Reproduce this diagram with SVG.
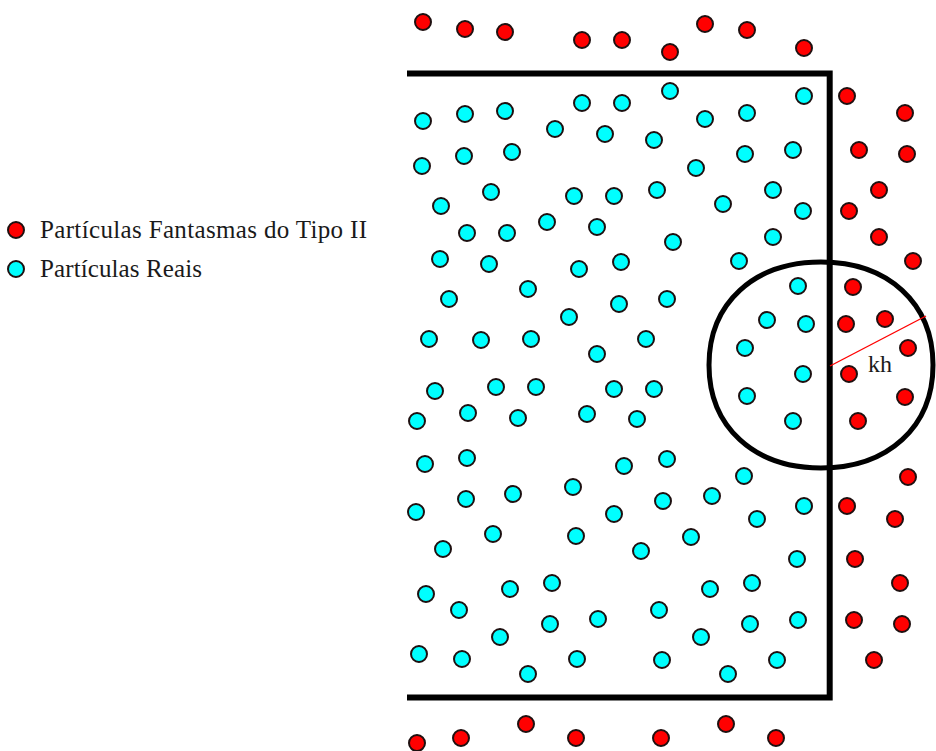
<svg xmlns="http://www.w3.org/2000/svg" width="936" height="751" viewBox="0 0 936 751">
<style>
.g{fill:#ff0000;stroke:#1e1010;stroke-width:2}
.r{fill:#00ffff;stroke:#1e1010;stroke-width:2}
.t{font-family:"Liberation Serif","Times New Roman",serif;font-size:25px;fill:#1a1a1a}
.w{fill:none;stroke:#000;stroke-width:6;stroke-linecap:butt;stroke-linejoin:miter}
</style>
<rect width="936" height="751" fill="#fff"/>
<g id="legend">
<circle class="g" cx="16" cy="230" r="8"/>
<text class="t" x="40" y="238" textLength="327" lengthAdjust="spacing">Partículas Fantasmas do Tipo II</text>
<circle class="r" cx="16" cy="269" r="8"/>
<text class="t" x="40" y="277" textLength="162" lengthAdjust="spacing">Partículas Reais</text>
</g>
<g id="ghost-particles">
<circle class="g" cx="423" cy="22" r="8"/><circle class="g" cx="465" cy="29" r="8"/><circle class="g" cx="505" cy="32" r="8"/><circle class="g" cx="582" cy="40" r="8"/><circle class="g" cx="622" cy="40" r="8"/><circle class="g" cx="670" cy="52" r="8"/><circle class="g" cx="705" cy="24" r="8"/><circle class="g" cx="747" cy="30" r="8"/><circle class="g" cx="804" cy="48" r="8"/>
<circle class="g" cx="847" cy="96" r="8"/><circle class="g" cx="905" cy="113" r="8"/><circle class="g" cx="859" cy="150" r="8"/><circle class="g" cx="907" cy="154" r="8"/><circle class="g" cx="879" cy="190" r="8"/><circle class="g" cx="849" cy="211" r="8"/><circle class="g" cx="879" cy="237" r="8"/><circle class="g" cx="913" cy="261" r="8"/>
<circle class="g" cx="853" cy="287" r="8"/><circle class="g" cx="846" cy="324" r="8"/><circle class="g" cx="885" cy="319" r="8"/><circle class="g" cx="908" cy="348" r="8"/><circle class="g" cx="849" cy="374" r="8"/><circle class="g" cx="905" cy="397" r="8"/><circle class="g" cx="858" cy="421" r="8"/><circle class="g" cx="908" cy="477" r="8"/>
<circle class="g" cx="847" cy="506" r="8"/><circle class="g" cx="895" cy="519" r="8"/><circle class="g" cx="855" cy="559" r="8"/><circle class="g" cx="900" cy="583" r="8"/><circle class="g" cx="854" cy="620" r="8"/><circle class="g" cx="902" cy="624" r="8"/><circle class="g" cx="874" cy="660" r="8"/>
<circle class="g" cx="417" cy="743" r="8"/><circle class="g" cx="461" cy="738" r="8"/><circle class="g" cx="526" cy="724" r="8"/><circle class="g" cx="576" cy="738" r="8"/><circle class="g" cx="661" cy="738" r="8"/><circle class="g" cx="726" cy="724" r="8"/><circle class="g" cx="776" cy="738" r="8"/>
</g>
<g id="real-particles">
<circle class="r" cx="670" cy="91" r="8"/><circle class="r" cx="582" cy="103" r="8"/><circle class="r" cx="622" cy="103" r="8"/><circle class="r" cx="804" cy="96" r="8"/><circle class="r" cx="423" cy="121" r="8"/><circle class="r" cx="465" cy="114" r="8"/><circle class="r" cx="505" cy="111" r="8"/><circle class="r" cx="705" cy="119" r="8"/><circle class="r" cx="747" cy="113" r="8"/><circle class="r" cx="555" cy="129" r="8"/><circle class="r" cx="605" cy="134" r="8"/><circle class="r" cx="654" cy="140" r="8"/>
<circle class="r" cx="422" cy="166" r="8"/><circle class="r" cx="464" cy="156" r="8"/><circle class="r" cx="512" cy="152" r="8"/><circle class="r" cx="745" cy="154" r="8"/><circle class="r" cx="793" cy="150" r="8"/><circle class="r" cx="696" cy="168" r="8"/><circle class="r" cx="491" cy="192" r="8"/><circle class="r" cx="574" cy="196" r="8"/><circle class="r" cx="614" cy="196" r="8"/><circle class="r" cx="657" cy="190" r="8"/><circle class="r" cx="773" cy="190" r="8"/><circle class="r" cx="441" cy="206" r="8"/><circle class="r" cx="723" cy="204" r="8"/><circle class="r" cx="803" cy="211" r="8"/>
<circle class="r" cx="547" cy="222" r="8"/><circle class="r" cx="597" cy="227" r="8"/><circle class="r" cx="467" cy="233" r="8"/><circle class="r" cx="507" cy="233" r="8"/><circle class="r" cx="673" cy="242" r="8"/><circle class="r" cx="773" cy="237" r="8"/><circle class="r" cx="440" cy="259" r="8"/><circle class="r" cx="489" cy="264" r="8"/><circle class="r" cx="579" cy="269" r="8"/><circle class="r" cx="621" cy="262" r="8"/><circle class="r" cx="739" cy="261" r="8"/>
<circle class="r" cx="449" cy="299" r="8"/><circle class="r" cx="528" cy="289" r="8"/><circle class="r" cx="619" cy="304" r="8"/><circle class="r" cx="667" cy="299" r="8"/><circle class="r" cx="798" cy="286" r="8"/><circle class="r" cx="569" cy="317" r="8"/><circle class="r" cx="767" cy="320" r="8"/><circle class="r" cx="806" cy="324" r="8"/>
<circle class="r" cx="429" cy="339" r="8"/><circle class="r" cx="481" cy="340" r="8"/><circle class="r" cx="531" cy="339" r="8"/><circle class="r" cx="646" cy="339" r="8"/><circle class="r" cx="597" cy="354" r="8"/><circle class="r" cx="745" cy="348" r="8"/><circle class="r" cx="803" cy="374" r="8"/>
<circle class="r" cx="435" cy="391" r="8"/><circle class="r" cx="496" cy="387" r="8"/><circle class="r" cx="536" cy="387" r="8"/><circle class="r" cx="614" cy="389" r="8"/><circle class="r" cx="654" cy="389" r="8"/><circle class="r" cx="747" cy="396" r="8"/><circle class="r" cx="417" cy="421" r="8"/><circle class="r" cx="468" cy="413" r="8"/><circle class="r" cx="518" cy="418" r="8"/><circle class="r" cx="587" cy="414" r="8"/><circle class="r" cx="637" cy="419" r="8"/><circle class="r" cx="793" cy="421" r="8"/>
<circle class="r" cx="425" cy="464" r="8"/><circle class="r" cx="467" cy="458" r="8"/><circle class="r" cx="624" cy="466" r="8"/><circle class="r" cx="667" cy="459" r="8"/><circle class="r" cx="744" cy="476" r="8"/>
<circle class="r" cx="416" cy="512" r="8"/><circle class="r" cx="466" cy="499" r="8"/><circle class="r" cx="513" cy="494" r="8"/><circle class="r" cx="573" cy="487" r="8"/><circle class="r" cx="614" cy="514" r="8"/><circle class="r" cx="663" cy="501" r="8"/><circle class="r" cx="712" cy="496" r="8"/><circle class="r" cx="804" cy="506" r="8"/><circle class="r" cx="757" cy="519" r="8"/>
<circle class="r" cx="443" cy="549" r="8"/><circle class="r" cx="493" cy="534" r="8"/><circle class="r" cx="576" cy="536" r="8"/><circle class="r" cx="641" cy="551" r="8"/><circle class="r" cx="691" cy="537" r="8"/><circle class="r" cx="797" cy="559" r="8"/>
<circle class="r" cx="426" cy="594" r="8"/><circle class="r" cx="510" cy="589" r="8"/><circle class="r" cx="552" cy="583" r="8"/><circle class="r" cx="459" cy="610" r="8"/><circle class="r" cx="550" cy="624" r="8"/><circle class="r" cx="500" cy="637" r="8"/><circle class="r" cx="598" cy="619" r="8"/><circle class="r" cx="659" cy="610" r="8"/><circle class="r" cx="710" cy="589" r="8"/><circle class="r" cx="752" cy="583" r="8"/><circle class="r" cx="750" cy="624" r="8"/><circle class="r" cx="798" cy="620" r="8"/><circle class="r" cx="701" cy="637" r="8"/>
<circle class="r" cx="419" cy="654" r="8"/><circle class="r" cx="462" cy="659" r="8"/><circle class="r" cx="528" cy="674" r="8"/><circle class="r" cx="577" cy="659" r="8"/><circle class="r" cx="662" cy="660" r="8"/><circle class="r" cx="777" cy="660" r="8"/><circle class="r" cx="728" cy="674" r="8"/>
</g>
<g id="boundary">
<path class="w" d="M407 73.5 H829.7 V697.5 H407"/>
</g>
<g id="kernel">
<path fill="none" stroke="#000" stroke-width="5" d="M933 365 C933 426.8 888.2 468 821 468 C753.8 468 709 426.8 709 365 C709 303.2 753.8 262 821 262 C888.2 262 933 303.2 933 365 Z"/>
<line x1="830" y1="366" x2="926" y2="316" stroke="#ff0000" stroke-width="1.4"/>
<text class="t" x="868" y="372" style="font-size:24px">kh</text>
</g>
</svg>
